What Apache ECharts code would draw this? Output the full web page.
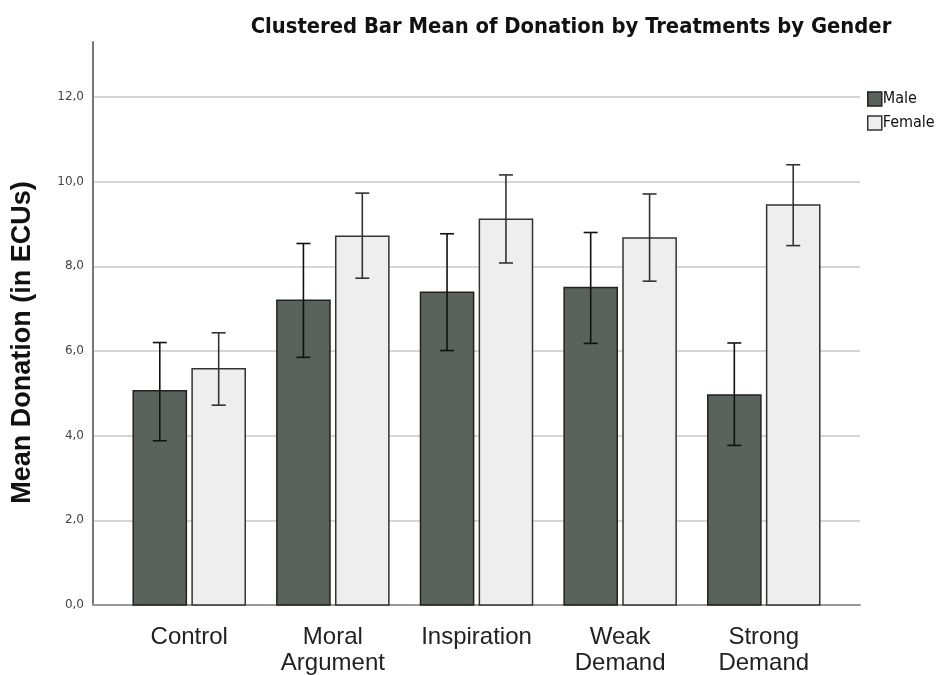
<!DOCTYPE html>
<html>
<head>
<meta charset="utf-8">
<script src="https://cdn.jsdelivr.net/npm/echarts@6/dist/echarts.min.js"></script>
<style>
  html, body { margin: 0; padding: 0; background: #fff; }
  #chart { width: 948px; height: 675px; }
</style>
</head>
<body>
<div id="chart"></div>
<script>
// 数据
const categories = ['Control', 'Moral\nArgument', 'Inspiration', 'Weak\nDemand', 'Strong\nDemand'];
const maleMean = [5.06, 7.2, 7.39, 7.5, 4.96];
const maleLow = [3.88, 5.85, 6.01, 6.18, 3.77];
const maleHigh = [6.2, 8.54, 8.77, 8.8, 6.19];
const femaleMean = [5.58, 8.71, 9.11, 8.67, 9.45];
const femaleLow = [4.72, 7.72, 8.08, 7.65, 8.49];
const femaleHigh = [6.43, 9.73, 10.16, 9.71, 10.4];
const yTicks = [0, 2, 4, 6, 8, 10, 12];

const chart = echarts.init(document.getElementById('chart'));

const BAR_W = 0.37;    // 柱宽（坐标单位）
const OFFSET = 0.205;  // 组内偏移

function makeRender(offset, fill, border, errColor) {
  return function (params, api) {
    const x = api.value(0) + offset;
    const top = api.coord([x, api.value(1)]);
    const base = api.coord([x, 0]);
    const w = api.size([BAR_W, 0])[0];
    const lo = api.coord([x, api.value(2)]);
    const hi = api.coord([x, api.value(3)]);
    const cap = 7;
    return {
      type: 'group',
      children: [
        {
          type: 'rect',
          shape: { x: top[0] - w / 2, y: top[1], width: w, height: base[1] - top[1] },
          style: { fill: fill, stroke: border, lineWidth: 1.5 }
        },
        { type: 'line', shape: { x1: lo[0], y1: lo[1], x2: hi[0], y2: hi[1] }, style: { stroke: errColor, lineWidth: 1.6 } },
        { type: 'line', shape: { x1: hi[0] - cap, y1: hi[1], x2: hi[0] + cap, y2: hi[1] }, style: { stroke: errColor, lineWidth: 1.6 } },
        { type: 'line', shape: { x1: lo[0] - cap, y1: lo[1], x2: lo[0] + cap, y2: lo[1] }, style: { stroke: errColor, lineWidth: 1.6 } }
      ]
    };
  };
}

const maleData = maleMean.map((v, i) => [i, v, maleLow[i], maleHigh[i]]);
const femaleData = femaleMean.map((v, i) => [i, v, femaleLow[i], femaleHigh[i]]);

const option = {
  animation: false,
  title: {
    text: 'Clustered Bar Mean of Donation by Treatments by Gender',
    left: 566,
    textAlign: 'center',
    top: 11,
    textStyle: { fontFamily: 'DejaVu Sans Condensed', fontWeight: 'bold', fontSize: 21.8, color: '#111' }
  },
  legend: {
    orient: 'vertical',
    left: 862,
    top: 86,
    itemWidth: 14,
    itemHeight: 14,
    itemGap: 8,
    icon: 'rect',
    textStyle: { fontFamily: 'DejaVu Sans Condensed', fontSize: 16, color: '#111', padding: [0, 0, 0, -4] },
    data: [
      { name: 'Male', itemStyle: { color: '#59625c', borderColor: '#222', borderWidth: 1.5 } },
      { name: 'Female', itemStyle: { color: '#eeeeee', borderColor: '#333', borderWidth: 1.5 } }
    ]
  },
  grid: { left: 93, right: 88, top: 42, bottom: 70, outerBoundsMode: 'none' },
  xAxis: {
    type: 'value',
    min: -0.67,
    max: 4.67,
    splitLine: { show: false },
    axisTick: { show: false },
    axisLine: { show: true, onZero: false, lineStyle: { color: '#999', width: 2 } },
    axisLabel: {
      customValues: [0, 1, 2, 3, 4],
      formatter: v => categories[Math.round(v)],
      fontFamily: 'Liberation Sans',
      fontSize: 24,
      color: '#222',
      lineHeight: 26,
      margin: 19
    }
  },
  yAxis: {
    type: 'value',
    min: 0,
    max: 13.3,
    interval: 2,
    name: 'Mean Donation (in ECUs)',
    nameLocation: 'middle',
    nameGap: 57,
    nameTextStyle: { fontFamily: 'Liberation Sans', fontWeight: 'bold', fontSize: 27, color: '#111', padding: [0, 38, 0, 0] },
    axisLine: { show: true, onZero: false, lineStyle: { color: '#777', width: 2 } },
    axisTick: { show: false },
    splitLine: { show: true, showMaxLine: false, lineStyle: { color: '#d6d6d6', width: 2 } },
    axisLabel: {
      showMaxLabel: false,
      formatter: v => (yTicks.indexOf(v) >= 0 ? v.toFixed(1).replace('.', ',') : ''),
      fontFamily: 'DejaVu Sans',
      fontSize: 12,
      color: '#444',
      margin: 9
    }
  },
  series: [
    {
      name: 'Male',
      type: 'custom',
      itemStyle: { color: '#59625c' },
      renderItem: makeRender(-OFFSET, '#59625c', '#222', '#111'),
      encode: { x: 0, y: [1, 2, 3] },
      data: maleData
    },
    {
      name: 'Female',
      type: 'custom',
      itemStyle: { color: '#eeeeee' },
      renderItem: makeRender(OFFSET, '#eeeeee', '#333', '#333'),
      encode: { x: 0, y: [1, 2, 3] },
      data: femaleData
    }
  ]
};

chart.setOption(option);
</script>
</body>
</html>
